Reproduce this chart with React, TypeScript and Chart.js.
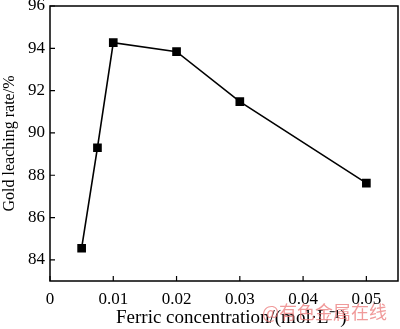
import React, { useEffect, useRef } from "react";
import { Chart, registerables } from "chart.js";

Chart.register(...registerables);

const concentrations = [0.005, 0.0075, 0.01, 0.02, 0.03, 0.05];
const leachingRates = [84.55, 89.3, 94.27, 93.84, 91.48, 87.63];
const xTicks = [0, 0.01, 0.02, 0.03, 0.04, 0.05];
const yTicks = [84, 86, 88, 90, 92, 94, 96];
const xTitle = "Ferric concentration/(mol·L\u207B\u00B9)";
const yTitle = "Gold leaching rate/%";
const watermark = "@有色金属在线";

const FONT = "'Liberation Serif', 'Times New Roman', serif";

const framePlugin = {
  id: "frame",
  afterDraw(chart: any) {
    const { ctx, chartArea } = chart;
    const { left, right, top, bottom } = chartArea;
    const xs = chart.scales.x;
    const ys = chart.scales.y;
    ctx.save();
    ctx.strokeStyle = "#000";
    ctx.lineWidth = 1.5;
    ctx.strokeRect(left, top, right - left, bottom - top);
    ctx.lineWidth = 1.2;
    ctx.beginPath();
    xs.ticks.forEach((t: any) => {
      const px = xs.getPixelForValue(t.value);
      ctx.moveTo(px, bottom);
      ctx.lineTo(px, bottom - 5);
    });
    ys.ticks.forEach((t: any) => {
      const py = ys.getPixelForValue(t.value);
      ctx.moveTo(left, py);
      ctx.lineTo(left + 5, py);
    });
    ctx.stroke();
    // x axis title
    ctx.fillStyle = "#000";
    ctx.font = "19px " + FONT;
    ctx.textAlign = "left";
    ctx.textBaseline = "alphabetic";
    ctx.fillText(xTitle, 116, 323);
    // watermark
    ctx.font = "18px 'Noto Sans CJK SC', sans-serif";
    ctx.fillStyle = "rgba(235, 120, 120, 0.75)";
    ctx.textAlign = "left";
    ctx.textBaseline = "middle";
    ctx.fillText(watermark, 262, 312);
    ctx.restore();
  },
};

export default function App() {
  const ref = useRef<HTMLCanvasElement | null>(null);

  useEffect(() => {
    document.body.style.margin = "0";
    const canvas = ref.current;
    if (!canvas) return;
    const chart = new Chart(canvas, {
      type: "line",
      data: {
        datasets: [
          {
            data: concentrations.map((x, i) => ({ x, y: leachingRates[i] })),
            borderColor: "#000",
            backgroundColor: "#000",
            borderWidth: 1.6,
            pointStyle: "rect",
            pointRadius: 5,
            pointHoverRadius: 5,
            tension: 0,
          },
        ],
      },
      options: {
        animation: false,
        responsive: false,
        maintainAspectRatio: false,
        layout: { autoPadding: false, padding: { top: 6, right: 2, left: 0, bottom: 0 } },
        plugins: {
          legend: { display: false },
          tooltip: { enabled: false },
        },
        scales: {
          x: {
            type: "linear",
            min: 0,
            max: 0.055,
            afterBuildTicks: (scale: any) => {
              scale.ticks = xTicks.map((v) => ({ value: v }));
            },
            afterFit: (scale: any) => {
              scale.height = 48;
              scale.paddingLeft = 0;
              scale.paddingRight = 0;
            },
            grid: { display: false, drawTicks: false },
            border: { display: false },
            ticks: {
              color: "#000",
              padding: 8,
              maxRotation: 0,
              font: { family: FONT, size: 17 },
              callback: (v: any) => (v === 0 ? "0" : Number(v).toFixed(2)),
            },
            title: { display: false },
          },
          y: {
            type: "linear",
            min: 83,
            max: 96,
            afterBuildTicks: (scale: any) => {
              scale.ticks = yTicks.map((v) => ({ value: v }));
            },
            afterFit: (scale: any) => {
              scale.width = 50;
              scale.paddingTop = 0;
              scale.paddingBottom = 0;
            },
            grid: { display: false, drawTicks: false },
            border: { display: false },
            ticks: {
              color: "#000",
              padding: 5,
              font: { family: FONT, size: 17 },
            },
            title: {
              display: true,
              text: yTitle,
              color: "#000",
              font: { family: FONT, size: 16 },
              padding: { top: 0, bottom: 0 },
            },
          },
        },
      },
      plugins: [framePlugin],
    });
    return () => chart.destroy();
  }, []);

  return (
    <div style={{ position: "fixed", left: 0, top: 0, width: 400, height: 329, background: "#fff" }}>
      <canvas ref={ref} width={400} height={329} style={{ width: 400, height: 329 }} />
    </div>
  );
}
